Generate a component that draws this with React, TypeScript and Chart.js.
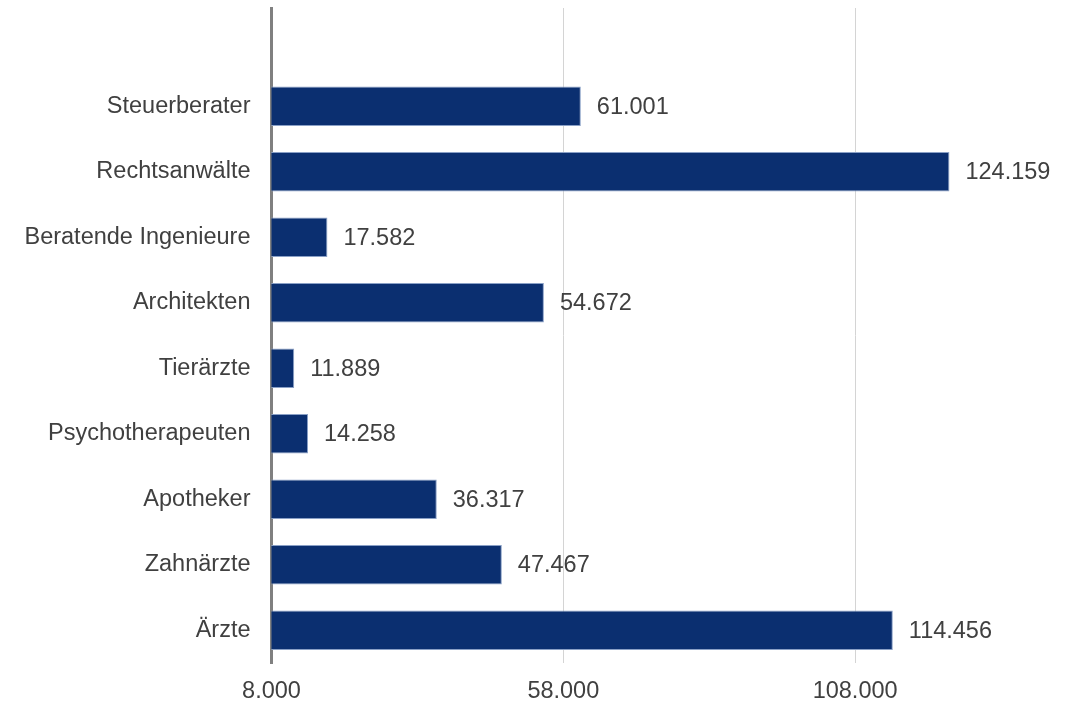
import React, { useEffect, useRef } from "react";
import { Chart, registerables } from "chart.js";

Chart.register(...registerables);

const categories = [
  "",
  "Steuerberater",
  "Rechtsanwälte",
  "Beratende Ingenieure",
  "Architekten",
  "Tierärzte",
  "Psychotherapeuten",
  "Apotheker",
  "Zahnärzte",
  "Ärzte",
];
const values: (number | null)[] = [null, 61001, 124159, 17582, 54672, 11889, 14258, 36317, 47467, 114456];
const tickValues = [8000, 58000, 108000];
const axisMin = 8000;
const axisMax = 143000;

const fmt = (v: number) => String(Math.round(v)).replace(/\B(?=(\d{3})+(?!\d))/g, ".");
const FONT = "'Liberation Sans', Arial, sans-serif";
const TEXT = "#404040";
const SIZE = 23.5;

const valueLabels = {
  id: "valueLabels",
  afterDatasetsDraw(chart: any) {
    const ctx = chart.ctx;
    const meta = chart.getDatasetMeta(0);
    ctx.save();
    ctx.font = `${SIZE}px ${FONT}`;
    ctx.fillStyle = TEXT;
    ctx.textAlign = "left";
    ctx.textBaseline = "middle";
    meta.data.forEach((el: any, i: number) => {
      const v = values[i];
      if (v == null) return;
      ctx.fillText(fmt(v), el.x + 16, el.y + 1);
    });
    ctx.restore();
  },
};

export default function App() {
  const ref = useRef<HTMLCanvasElement>(null);
  useEffect(() => {
    if (!ref.current) return;
    const chart = new Chart(ref.current, {
      type: "bar",
      data: {
        labels: categories,
        datasets: [
          {
            data: values,
            backgroundColor: "#0b2f70",
            borderColor: "#8aa0c6",
            borderWidth: 1,
            borderSkipped: false,
            barPercentage: 0.6,
            categoryPercentage: 1,
          },
        ],
      },
      options: {
        indexAxis: "y",
        animation: false,
        responsive: true,
        maintainAspectRatio: false,
        layout: { padding: { top: 8, right: 15.6, bottom: 0, left: 0 } },
        plugins: { legend: { display: false }, tooltip: { enabled: false } },
        scales: {
          x: {
            type: "linear",
            min: axisMin,
            max: axisMax,
            afterBuildTicks: (s: any) => {
              s.ticks = tickValues.map((v) => ({ value: v }));
            },
            afterFit: (s: any) => {
              s.height = 40;
              s.paddingLeft = 0;
              s.paddingRight = 0;
            },
            grid: {
              drawTicks: false,
              color: (c: any) => (c.index === 0 ? "rgba(0,0,0,0)" : "#d4d4d4"),
              lineWidth: 1,
            },
            border: { display: false },
            ticks: {
              padding: 14,
              color: TEXT,
              font: { family: FONT, size: SIZE },
              callback: (v: any) => fmt(Number(v)),
              maxRotation: 0,
            },
          },
          y: {
            afterFit: (s: any) => {
              s.width = 271.5;
              s.paddingTop = 0;
              s.paddingBottom = 0;
            },
            grid: { display: false, drawTicks: false },
            border: { display: true, color: "#808080", width: 3 },
            ticks: {
              padding: 21,
              color: TEXT,
              font: { family: FONT, size: SIZE },
              autoSkip: false,
            },
          },
        },
      },
      plugins: [valueLabels],
    } as any);
    return () => chart.destroy();
  }, []);
  return (
    <div style={{ position: "absolute", left: 0, top: 0, width: 1075, height: 703 }}>
      <canvas ref={ref} />
    </div>
  );
}
